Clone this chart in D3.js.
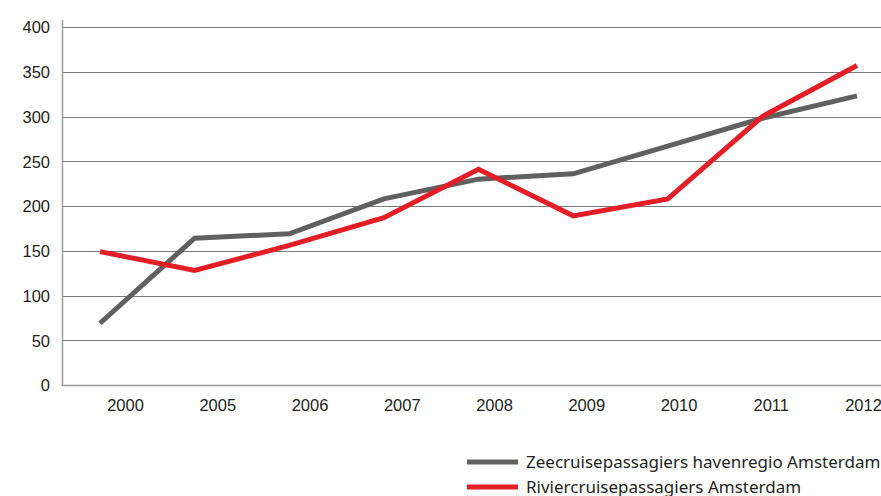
<!doctype html>
<html>
  <head>
    <script src="https://cdnjs.cloudflare.com/ajax/libs/d3/7.8.5/d3.min.js"></script>
    <style>
      body { margin: 0; background: #fff; }
      svg { font-family: "Noto Sans", "Open Sans", sans-serif; }
      .tick text { font-size: 16.5px; fill: #231f20; }
      .grid line { stroke: #7a7a7a; stroke-width: 1; }
      .serie { fill: none; stroke-width: 5; stroke-linejoin: miter; }
      .legend text { font-size: 17px; fill: #231f20; }
    </style>
  </head>
  <body>
    <svg width="881" height="496"></svg>
    <script>
      var years = ["2000", "2005", "2006", "2007", "2008", "2009", "2010", "2011", "2012"];
      var yTicks = [0, 50, 100, 150, 200, 250, 300, 350, 400];
      var zee = [69, 164, 169, 208, 230, 236, 267, 298, 323];
      var rivier = [149, 128, 156, 187, 241, 189, 208, 300, 357];
      var seriesNames = ["Zeecruisepassagiers havenregio Amsterdam", "Riviercruisepassagiers Amsterdam"];
      var colors = ["#606060", "#e31e26"];

      var svg = d3.select("svg");

      var y = d3.scaleLinear().domain([0, 400]).range([385, 27]);
      // points and labels are not aligned in the original
      var xPt = d3.scalePoint().domain(years).range([100, 857]);
      var xLab = d3.scalePoint().domain(years).range([125, 863]);

      // gridlines
      svg.append("g").attr("class", "grid")
        .selectAll("line").data(yTicks.slice(1)).enter()
        .append("line")
          .attr("x1", 62).attr("x2", 881)
          .attr("y1", d => Math.round(y(d)) + 0.5)
          .attr("y2", d => Math.round(y(d)) + 0.5);

      // y axis line + baseline
      svg.append("line").attr("x1", 62.5).attr("x2", 62.5).attr("y1", 20).attr("y2", 385.5)
        .attr("stroke", "#9a9a9a").attr("stroke-width", 1.5);
      svg.append("line").attr("x1", 62).attr("x2", 881).attr("y1", 385.5).attr("y2", 385.5)
        .attr("stroke", "#9a9a9a").attr("stroke-width", 1.5);

      svg.append("g")
        .attr("transform", "translate(62,0)")
        .call(d3.axisLeft(y).tickValues(yTicks).tickSize(0).tickPadding(12))
        .call(g => g.select(".domain").remove())
        .selectAll("text").attr("dy", "0.35em");

      svg.append("g")
        .attr("transform", "translate(0,395)")
        .call(d3.axisBottom(xLab).tickSize(0).tickPadding(4))
        .call(g => g.select(".domain").remove());

      var line = d3.line()
        .x((d, i) => xPt(years[i]))
        .y(d => y(d));

      [zee, rivier].forEach((s, k) => {
        svg.append("path").datum(s)
          .attr("class", "serie")
          .attr("stroke", colors[k])
          .attr("d", line);
      });

      var legend = svg.append("g").attr("class", "legend");
      seriesNames.forEach((n, k) => {
        var ly = 462 + k * 25;
        legend.append("line")
          .attr("x1", 467).attr("x2", 518)
          .attr("y1", ly).attr("y2", ly)
          .attr("stroke", colors[k]).attr("stroke-width", 5);
        legend.append("text")
          .attr("x", 526).attr("y", ly).attr("dy", "0.35em")
          .text(n);
      });
    </script>
  </body>
</html>
